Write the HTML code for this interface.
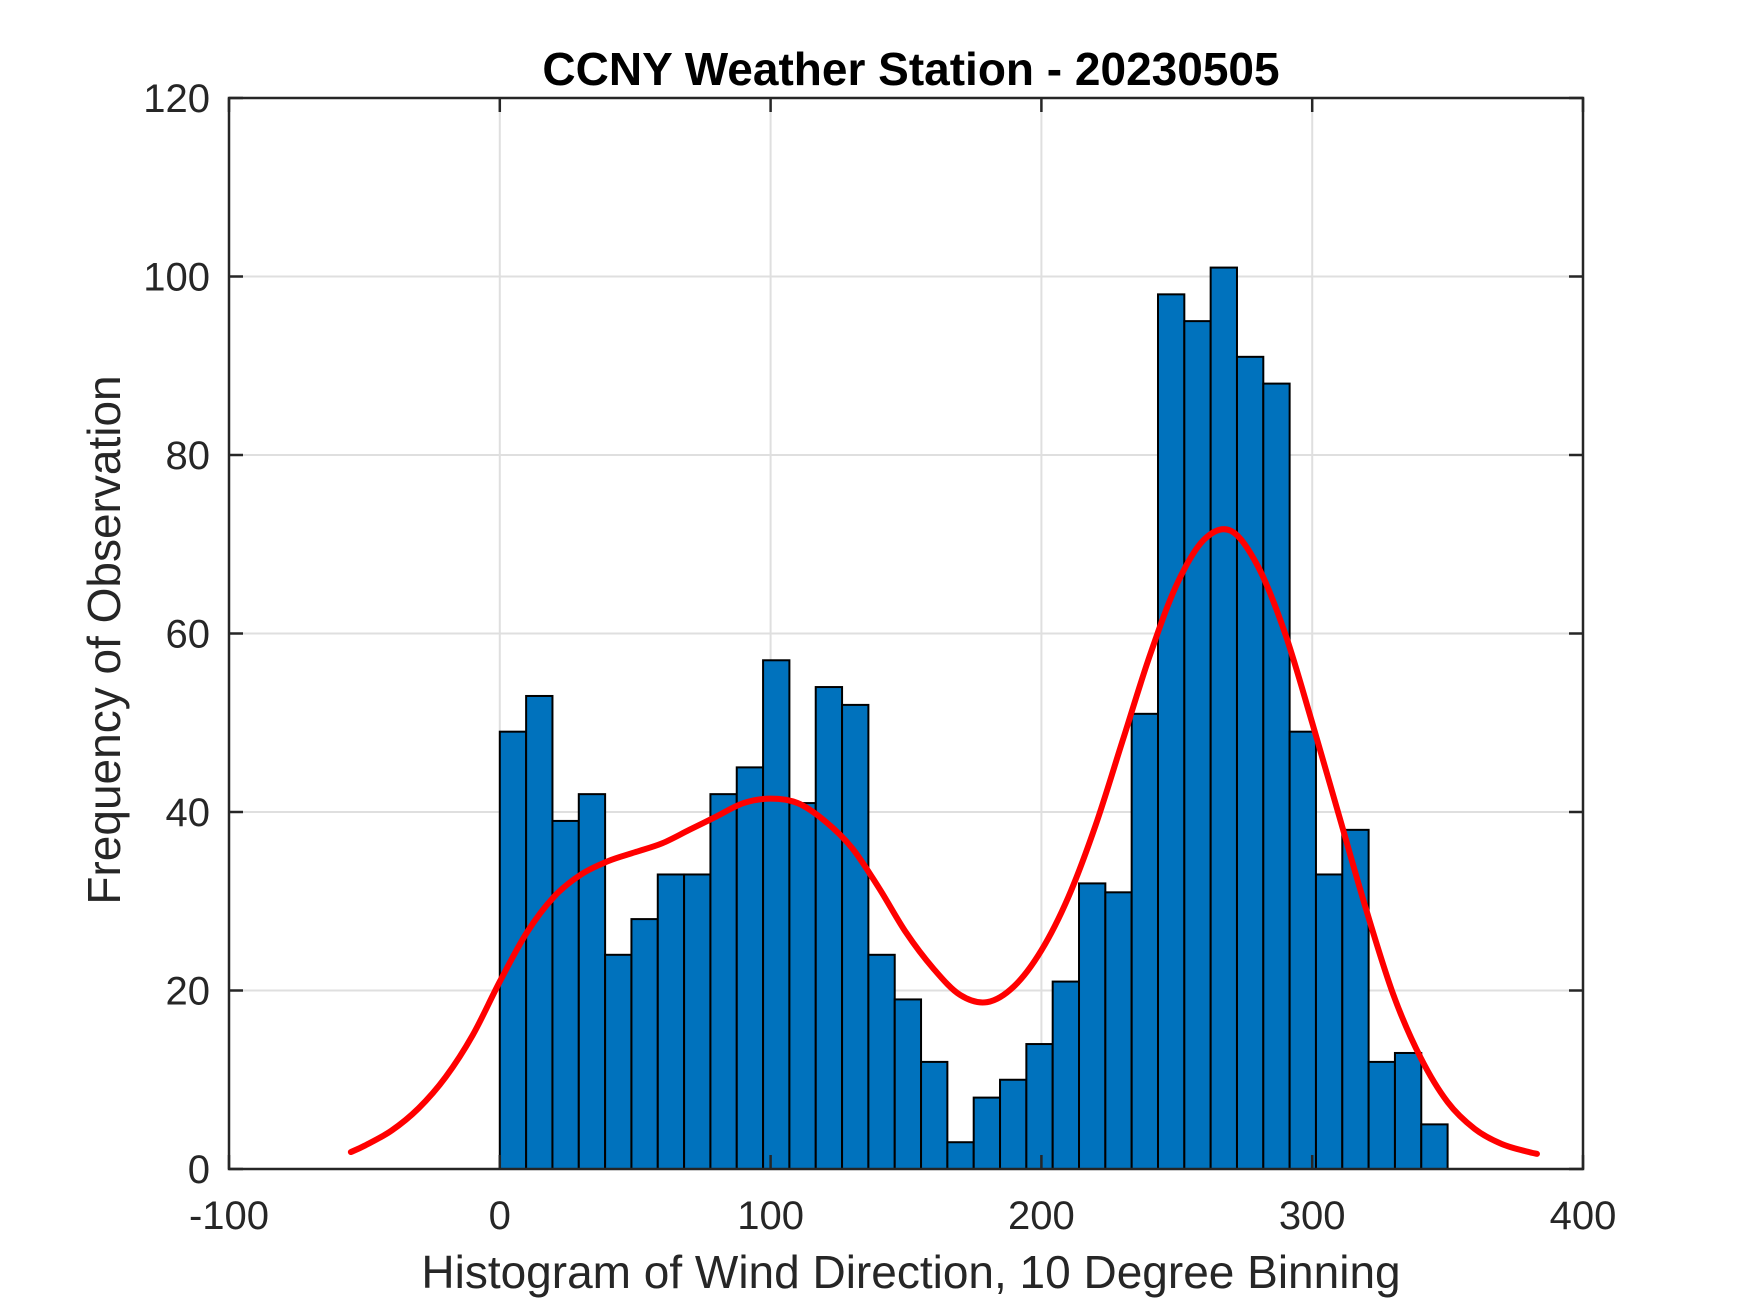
<!DOCTYPE html>
<html><head><meta charset="utf-8"><style>
html,body{margin:0;padding:0;background:#fff;}
svg{display:block;font-family:"Liberation Sans",sans-serif;}
</style></head><body>
<svg id="chart" width="1750" height="1313" viewBox="0 0 1750 1313" xmlns="http://www.w3.org/2000/svg">
<rect width="1750" height="1313" fill="#fff"/>
<g id="grid"></g>
<g id="bars"></g>
<path id="fit" fill="none" stroke="#ff0000" stroke-width="6" stroke-linejoin="round" stroke-linecap="round"/>
<g id="axes"></g>
<text x="911" y="85" text-anchor="middle" font-size="46" font-weight="bold" fill="#000">CCNY Weather Station - 20230505</text>
<text x="911" y="1288" text-anchor="middle" font-size="46" fill="#262626">Histogram of Wind Direction, 10 Degree Binning</text>
<text x="0" y="0" transform="translate(120,640) rotate(-90)" text-anchor="middle" font-size="46" fill="#262626">Frequency of Observation</text>
</svg>
<script>
const binStart = 0;
const binEnd = 350;
const counts = [49,53,39,42,24,28,33,33,42,45,57,41,54,52,24,19,12,3,8,10,14,21,32,31,51,98,95,101,91,88,49,33,38,12,13,5];
const fitX = [-55,-50,-40,-30,-20,-10,0,10,20,30,40,50,60,70,80,90,100,110,120,130,140,150,160,170,180,190,200,210,220,230,240,250,260,270,280,290,300,310,320,330,340,350,360,370,380,383];
const fitY = [1.9,2.6,4.3,6.8,10.3,15,21,26.5,30.5,33,34.5,35.5,36.5,38,39.5,41,41.5,41,39,36,31.5,26.5,22.5,19.5,18.7,20.5,24.5,30.5,38.5,48,57.5,65.5,70.5,71.5,67.5,60,50,39.5,29,19.5,12.5,7.5,4.5,2.8,1.9,1.7];
const xTicks = [-100,0,100,200,300,400];
const yTicks = [0,20,40,60,80,100,120];

const L=229,R=1583,T=98,B=1169;
const xMin=-100,xMax=400,yMin=0,yMax=120;
const sx=v=>L+(v-xMin)/(xMax-xMin)*(R-L);
const sy=v=>B-(v-yMin)/(yMax-yMin)*(B-T);
const NS='http://www.w3.org/2000/svg';
function mk(tag,attrs,parent){const e=document.createElementNS(NS,tag);for(const k in attrs)e.setAttribute(k,attrs[k]);parent.appendChild(e);return e;}

const grid=document.getElementById('grid');
xTicks.forEach(t=>{const l=mk('line',{x1:sx(t),x2:sx(t),y1:T,y2:B,stroke:'#dfdfdf','stroke-width':2},grid);

});
yTicks.forEach(t=>{const l=mk('line',{x1:L,x2:R,y1:sy(t),y2:sy(t),stroke:'#dfdfdf','stroke-width':2},grid);

});

const bars=document.getElementById('bars');
const w=(binEnd-binStart)/counts.length;
counts.forEach((c,i)=>{const x0=sx(binStart+i*w),x1=sx(binStart+(i+1)*w);
const r=mk('rect',{x:x0,y:sy(c),width:x1-x0,height:sy(0)-sy(c),fill:'#0072bd',stroke:'#000','stroke-width':2},bars);

});

const pts=fitX.map((x,i)=>[sx(x),sy(fitY[i])]);
let d='M'+pts[0][0]+','+pts[0][1];
for(let i=0;i<pts.length-1;i++){const p0=pts[Math.max(i-1,0)],p1=pts[i],p2=pts[i+1],p3=pts[Math.min(i+2,pts.length-1)];
const c1=[p1[0]+(p2[0]-p0[0])/6,p1[1]+(p2[1]-p0[1])/6],c2=[p2[0]-(p3[0]-p1[0])/6,p2[1]-(p3[1]-p1[1])/6];
d+=' C'+c1+' '+c2+' '+p2;}
document.getElementById('fit').setAttribute('d',d);

const axes=document.getElementById('axes');
mk('rect',{x:L,y:T,width:R-L,height:B-T,fill:'none',stroke:'#262626','stroke-width':2.5},axes);
xTicks.forEach(t=>{const x=sx(t);
mk('line',{x1:x,x2:x,y1:B,y2:B-14,stroke:'#262626','stroke-width':2.5},axes);
mk('line',{x1:x,x2:x,y1:T,y2:T+14,stroke:'#262626','stroke-width':2.5},axes);
const tx=mk('text',{x:x,y:1229,'text-anchor':'middle','font-size':40,fill:'#262626'},axes);tx.textContent=t;

});
yTicks.forEach(t=>{const y=sy(t);
mk('line',{x1:L,x2:L+14,y1:y,y2:y,stroke:'#262626','stroke-width':2.5},axes);
mk('line',{x1:R,x2:R-14,y1:y,y2:y,stroke:'#262626','stroke-width':2.5},axes);
const tx=mk('text',{x:210,y:y+14,'text-anchor':'end','font-size':40,fill:'#262626'},axes);tx.textContent=t;

});
</script>
</body></html>
